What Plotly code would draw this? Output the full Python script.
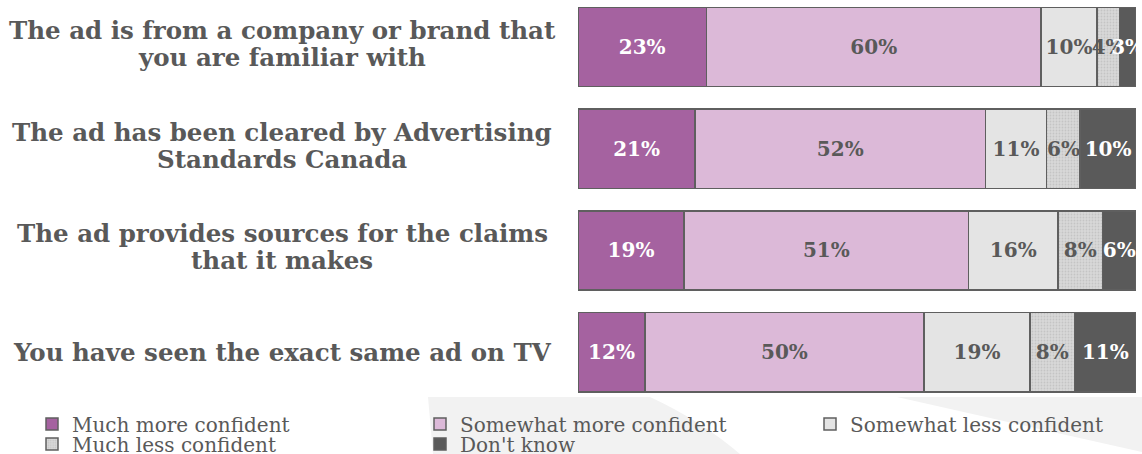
import plotly.graph_objects as go

# Survey statements (one horizontal bar each, top to bottom)
categories = [
    "The ad is from a company or brand that<br>you are familiar with",
    "The ad has been cleared by Advertising<br>Standards Canada",
    "The ad provides sources for the claims<br>that it makes",
    "You have seen the exact same ad on TV",
]

# Response shares, in percent
much_more = [23, 21, 19, 12]
somewhat_more = [60, 52, 51, 50]
somewhat_less = [10, 11, 16, 19]
much_less = [4, 6, 8, 8]
dont_know = [3, 10, 6, 11]

series_names = [
    "Much more confident",
    "Somewhat more confident",
    "Somewhat less confident",
    "Much less confident",
    "Don't know",
]
series_values = [much_more, somewhat_more, somewhat_less, much_less, dont_know]

FONT = "DejaVu Serif"
GREY_TEXT = "#595959"
W, H = 1142, 454
M_L, M_R, M_T, M_B = 578, 6, 0, 51
PLOT_W = W - M_L - M_R
PLOT_H = H - M_T - M_B

fills = ["#A562A0", "#DCB9D8", "#E4E4E4", "#D4D4D4", "#5A5A5A"]
label_colors = ["white", GREY_TEXT, GREY_TEXT, GREY_TEXT, "white"]
patterns = [None, None, None,
            dict(shape=".", fgcolor="#b0b0b0", bgcolor="#d8d8d8", size=3, solidity=0.3),
            None]

# legend slots: (text start x, row centre y) in page pixels
legend_slots = [(72, 424), (460, 424), (850, 424), (72, 444), (460, 444)]

LINE_GAP = 27  # vertical distance between the two lines of a statement


def to_paper_x(px):
    return (px - M_L) / PLOT_W


def to_paper_y(py):
    return (M_T + PLOT_H - py) / PLOT_H


fig = go.Figure()

for i, (name, vals) in enumerate(zip(series_names, series_values)):
    marker = dict(color=fills[i], line=dict(color="#5f5f5f", width=1.5))
    if patterns[i]:
        marker["pattern"] = patterns[i]
    fig.add_trace(go.Bar(
        name=name,
        y=categories,
        x=vals,
        orientation="h",
        marker=marker,
        texttemplate="%{x}%",
        textposition="inside",
        insidetextanchor="middle",
        textangle=0,
        textfont=dict(family=FONT, size=20, color=label_colors[i], weight="bold"),
        legend="legend" if i == 0 else f"legend{i + 1}",
        hoverinfo="skip",
    ))

# statement labels, centred to the left of the bars (one annotation per line)
annotations = []
for cat in categories:
    lines = cat.split("<br>")
    n = len(lines)
    lift = 3 if n > 1 else 0
    for k, line in enumerate(lines):
        annotations.append(dict(
            x=to_paper_x(282), xref="paper", xanchor="center",
            y=cat, yref="y", yanchor="middle",
            yshift=((n - 1) / 2 - k) * LINE_GAP + lift,
            text=f"<b>{line}</b>", showarrow=False, align="center",
            font=dict(family=FONT, size=24.5, color=GREY_TEXT),
        ))

# faint background decoration at the bottom of the page
y_top = to_paper_y(397)
y_bot = to_paper_y(454)
blob = (f"M {to_paper_x(428)},{y_top} L {to_paper_x(650)},{y_top} "
        f"Q {to_paper_x(700)},{to_paper_y(420)} {to_paper_x(740)},{y_bot} "
        f"L {to_paper_x(433)},{y_bot} Z")
tri = (f"M {to_paper_x(897)},{y_top} L {to_paper_x(1142)},{y_top} "
       f"L {to_paper_x(1142)},{to_paper_y(452)} Z")
shapes = [
    dict(type="path", path=blob, xref="paper", yref="paper", layer="below",
         fillcolor="#f2f2f2", line=dict(width=0)),
    dict(type="path", path=tri, xref="paper", yref="paper", layer="below",
         fillcolor="#f2f2f2", line=dict(width=0)),
]

legend_layouts = {}
for i, (tx, ty) in enumerate(legend_slots):
    key = "legend" if i == 0 else f"legend{i + 1}"
    legend_layouts[key] = dict(
        x=to_paper_x(tx - 40), xanchor="left",
        y=to_paper_y(ty), yanchor="middle",
        bgcolor="rgba(0,0,0,0)", borderwidth=0,
        font=dict(family=FONT, size=20, color=GREY_TEXT),
        itemclick=False, itemdoubleclick=False,
    )

fig.update_layout(
    width=W, height=H,
    margin=dict(l=M_L, r=M_R, t=M_T, b=M_B, autoexpand=False),
    barmode="stack",
    bargap=0.22,
    paper_bgcolor="white",
    plot_bgcolor="rgba(0,0,0,0)",
    xaxis=dict(range=[0, 100], visible=False, fixedrange=True),
    yaxis=dict(range=[3.5, -0.462], showticklabels=False, showgrid=False,
               zeroline=False, fixedrange=True, categoryorder="array",
               categoryarray=categories),
    uniformtext=dict(minsize=20, mode="show"),
    annotations=annotations,
    shapes=shapes,
    showlegend=True,
    **legend_layouts,
)

fig.write_html("out.html", config={"displayModeBar": False})
